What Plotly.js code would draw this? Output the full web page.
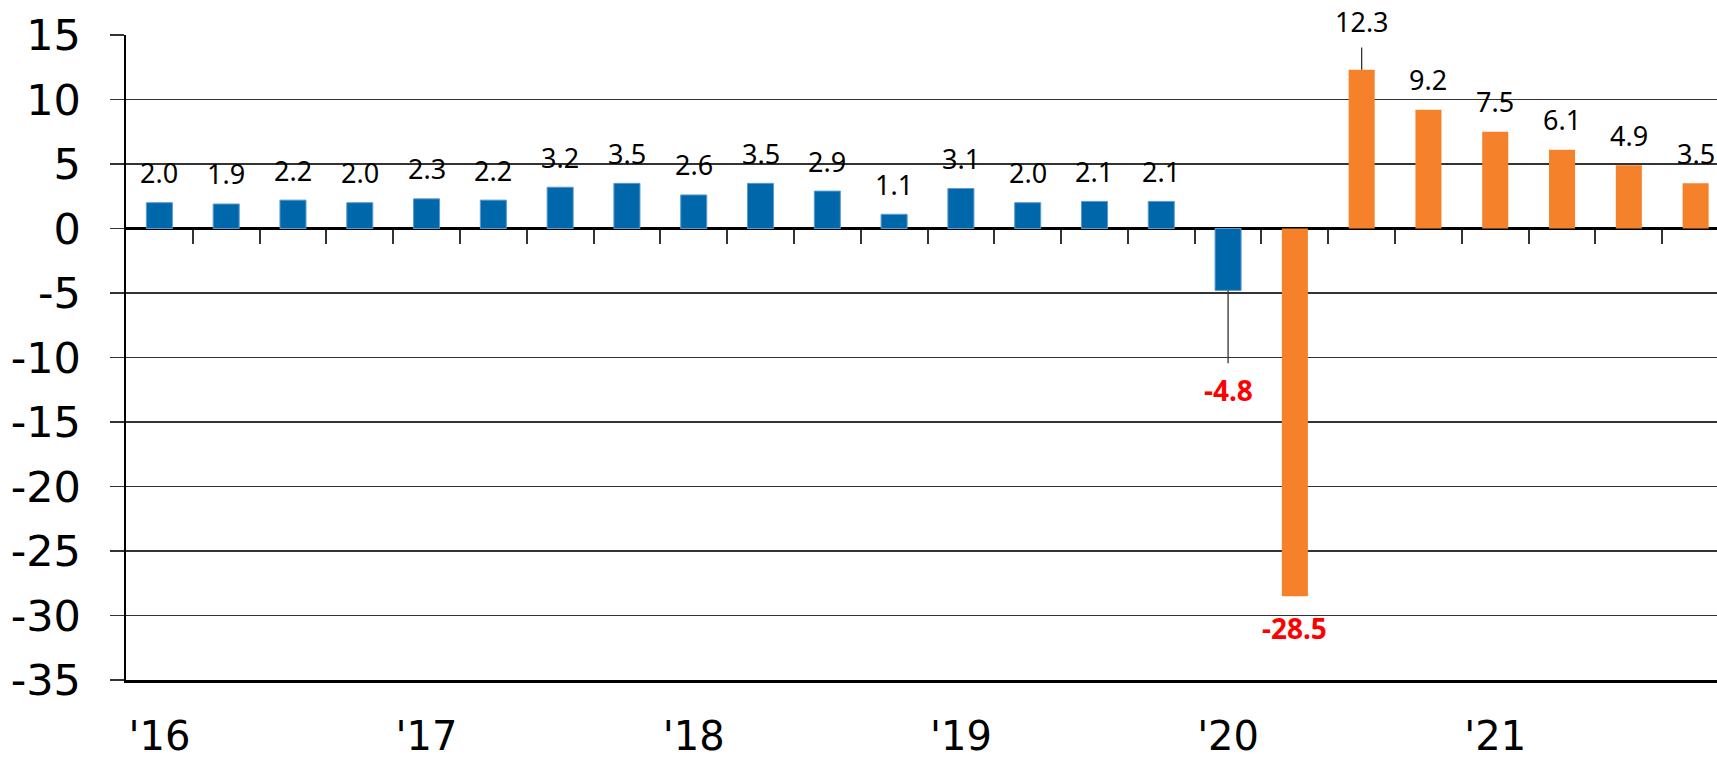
<!DOCTYPE html>
<html>
<head>
<meta charset="utf-8">
<script src="https://cdn.plot.ly/plotly-3.0.1.min.js"></script>
<style>html,body{margin:0;padding:0;background:#fff;}#chart{width:1717px;height:758px;}</style>
</head>
<body>
<div id="chart"></div>
<script>
// Quarterly values, 2016 Q1 .. 2021 Q4
const actualValues = [2.0, 1.9, 2.2, 2.0, 2.3, 2.2, 3.2, 3.5, 2.6, 3.5, 2.9, 1.1, 3.1, 2.0, 2.1, 2.1, -4.8];
const forecastValues = [-28.5, 12.3, 9.2, 7.5, 6.1, 4.9, 3.5];
const yearLabels = ["'16", "'17", "'18", "'19", "'20", "'21"];
const yTickValues = [15, 10, 5, 0, -5, -10, -15, -20, -25, -30, -35];
const yTickLabels = ["15", "10", "5", "0", "-5", "-10", "-15", "-20", "-25", "-30", "-35"];

const allValues = actualValues.concat(forecastValues);
const xActual = actualValues.map((v, i) => i);
const xForecast = forecastValues.map((v, i) => i + actualValues.length);
const n = allValues.length;

const BLUE = '#0068AA';
const ORANGE = '#F5822A';
const GRID = '#333333';

const traces = [
  {type: 'bar', x: xActual, y: actualValues, xaxis: 'x', yaxis: 'y', width: 0.39,
   marker: {color: BLUE, line: {color: '#5B9BD0', width: 1}}, hoverinfo: 'y', showlegend: false},
  {type: 'bar', x: xForecast, y: forecastValues, xaxis: 'x2', yaxis: 'y', width: 0.39,
   marker: {color: ORANGE}, hoverinfo: 'y', showlegend: false}
];

// label style: leader-lined labels (by bar index) get their text placed at a given y
const leaderLabelY = {16: -12.5, 18: 16.05};
const annotations = allValues.map((v, i) => {
  const neg = v < 0;
  const base = {
    x: i, y: v, xref: 'x', yref: 'y',
    text: neg ? '<b>' + v.toFixed(1) + '</b>' : v.toFixed(1),
    font: {family: 'Noto Sans, sans-serif', size: neg ? 28 : 27, color: neg ? '#FF0000' : '#000000'},
  };
  if (leaderLabelY[i] !== undefined) {
    return Object.assign(base, {showarrow: true, arrowhead: 0, arrowwidth: 1.3, arrowcolor: '#333',
      ax: i, ay: leaderLabelY[i], axref: 'x', ayref: 'y', standoff: 0, startstandoff: 6});
  }
  return Object.assign(base, {showarrow: false, yshift: neg ? -32 : 30});
});

const xRange = [-0.5, 23.32];
const layout = {
  width: 1717, height: 758,
  margin: {l: 126, r: 0, t: 35, b: 78, pad: 0},
  paper_bgcolor: '#fff', plot_bgcolor: '#fff',
  barmode: 'overlay',
  xaxis: {
    range: xRange, showgrid: false, zeroline: false,
    showline: true, linecolor: '#000', linewidth: 2.5,
    tickmode: 'array', tickvals: yearLabels.map((t, k) => k * 4), ticktext: yearLabels,
    ticks: '', ticklabelstandoff: 19,
    tickfont: {family: 'DejaVu Sans, Verdana, sans-serif', size: 40, color: '#000'},
    fixedrange: true
  },
  xaxis2: {
    overlaying: 'x', anchor: 'free', position: 0.7, range: xRange,
    showgrid: false, zeroline: false, showline: false,
    tickmode: 'array', tickvals: Array.from({length: n - 1}, (_, k) => k + 0.5),
    ticks: 'outside', ticklen: 14, tickwidth: 2, tickcolor: GRID, showticklabels: false,
    fixedrange: true
  },
  yaxis: {
    range: [-35, 15], tickmode: 'array', tickvals: yTickValues, ticktext: yTickLabels,
    showgrid: true, gridcolor: GRID, gridwidth: 1.5,
    showline: true, linecolor: '#000', linewidth: 2.5,
    ticks: 'outside', ticklen: 14, tickwidth: 1.5, tickcolor: GRID, ticklabelstandoff: 20,
    zeroline: true, zerolinecolor: '#000', zerolinewidth: 2.5,
    tickfont: {family: 'DejaVu Sans, Verdana, sans-serif', size: 43, color: '#000'},
    fixedrange: true
  },
  annotations: annotations
};

Plotly.newPlot('chart', traces, layout, {displayModeBar: false, staticPlot: true});
</script>
</body>
</html>
